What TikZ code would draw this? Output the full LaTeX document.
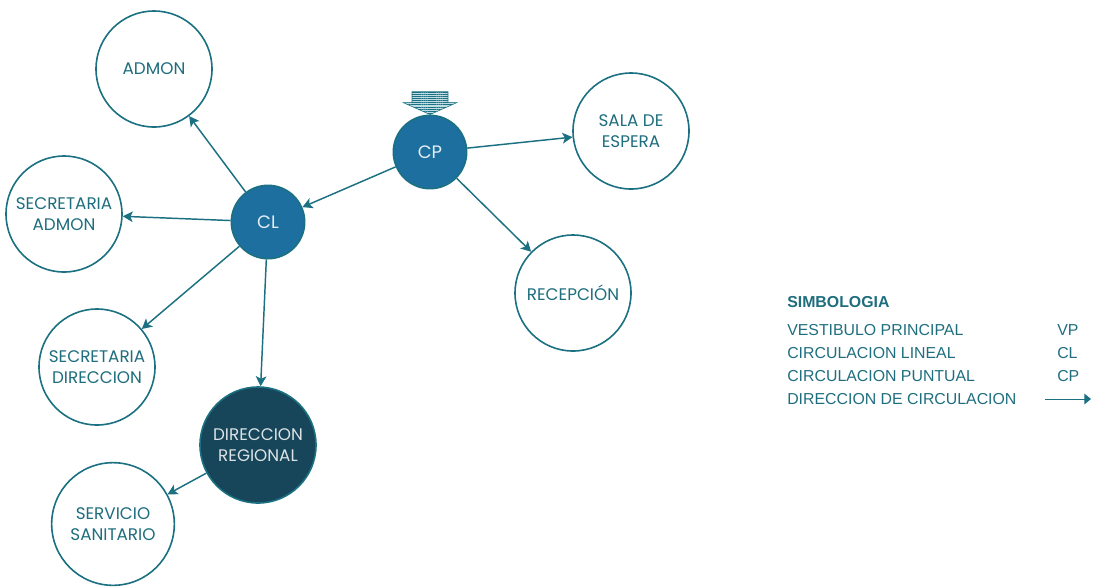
\documentclass[tikz,border=0pt]{standalone}
\usepackage{fontspec}
\setmainfont{Poppins}
\newfontfamily\legendfont{Liberation Sans}
\usepackage{xcolor}
\usetikzlibrary{arrows.meta,patterns.meta}
\definecolor{tealtext}{HTML}{1E6E7E}
\definecolor{tealline}{HTML}{1B7181}
\definecolor{nodeblue}{HTML}{1D6FA0}
\definecolor{nodedark}{HTML}{17455A}
\definecolor{stripe}{HTML}{BFDDE2}

\begin{document}
\begin{tikzpicture}[x=0.75pt,y=-0.75pt,
    space/.style={circle,draw=tealline,line width=1.2pt,fill=white,inner sep=0pt,
      minimum size=87pt,align=center,text=tealtext,
      font=\fontsize{12.6}{15.8}\selectfont},
    hub/.style={circle,draw=tealline,line width=1.2pt,fill=nodeblue,inner sep=0pt,
      minimum size=55pt,text=white!88!nodeblue,font=\fontsize{13.5}{15}\selectfont},
    flow/.style={draw=tealline,line width=1.1pt,
      -{Stealth[length=7.5pt,width=8pt,inset=1.8pt]}},
    legend/.style={anchor=west,inner sep=0pt,text=tealtext,
      font=\legendfont\fontsize{11.9}{13}\selectfont}]
  \useasboundingbox (0,0) rectangle (1096,587);
  % spaces
  \node[space] (admon) at (154,69) {ADMON};
  \node[space] (secadm) at (64,214) {SECRETARIA\\ADMON};
  \node[space] (secdir) at (97,367) {SECRETARIA\\DIRECCION};
  \node[space,minimum size=92pt] (sanit) at (113,524) {SERVICIO\\SANITARIO};
  \node[space] (sala) at (631,131) {SALA DE\\ESPERA};
  \node[space] (recep) at (573,293) {RECEPCIÓN};
  \node[space,fill=nodedark,text=white!85!nodedark] (dirreg) at (258,445) {DIRECCION\\REGIONAL};
  % circulation
  \node[hub] (cl) at (268,222) {CL};
  \node[hub] (cp) at (430,152) {CP};
  % connectors
  \draw[flow] (cp) -- (cl);
  \draw[flow] (cp) -- (sala);
  \draw[flow] (cp) -- (recep);
  \draw[flow] (cl) -- (admon);
  \draw[flow] (cl) -- (secadm);
  \draw[flow] (cl) -- (secdir);
  \draw[flow] (cl) -- (dirreg);
  \draw[flow] (dirreg) -- (sanit);
  % entrance
  \path[draw=tealline,line width=0.4pt,preaction={fill=stripe},
      pattern={Lines[angle=0,distance=1.6pt,line width=0.7pt]},pattern color=tealline]
    ([shift={(-18,-23)}]cp.north) -- ([shift={(18,-23)}]cp.north)
    -- ([shift={(18,-12)}]cp.north) -- ([shift={(27,-12)}]cp.north)
    -- (cp.north) -- ([shift={(-27,-12)}]cp.north)
    -- ([shift={(-18,-12)}]cp.north) -- cycle;
  % legend
  \node[legend,font=\legendfont\bfseries\fontsize{11.9}{13}\selectfont] (simb) at (787,302) {SIMBOLOGIA};
  \node[legend] (vp) at (787,330) {VESTIBULO PRINCIPAL};
  \node[legend] (lin) at (787,353) {CIRCULACION LINEAL};
  \node[legend] (pun) at (787,376) {CIRCULACION PUNTUAL};
  \node[legend] (dir) at (787,399) {DIRECCION DE CIRCULACION};
  \node[legend] (vpk) at (1057,330) {VP};
  \node[legend] (clk) at (1057,353) {CL};
  \node[legend] (cpk) at (1057,376) {CP};
  \coordinate (arrs) at (1045,399);
  \coordinate (arre) at (1091,399);
  \draw[draw=tealline,line width=0.7pt,-{Triangle[length=5pt,width=8pt]}] (arrs) -- (arre);
\end{tikzpicture}
\end{document}
